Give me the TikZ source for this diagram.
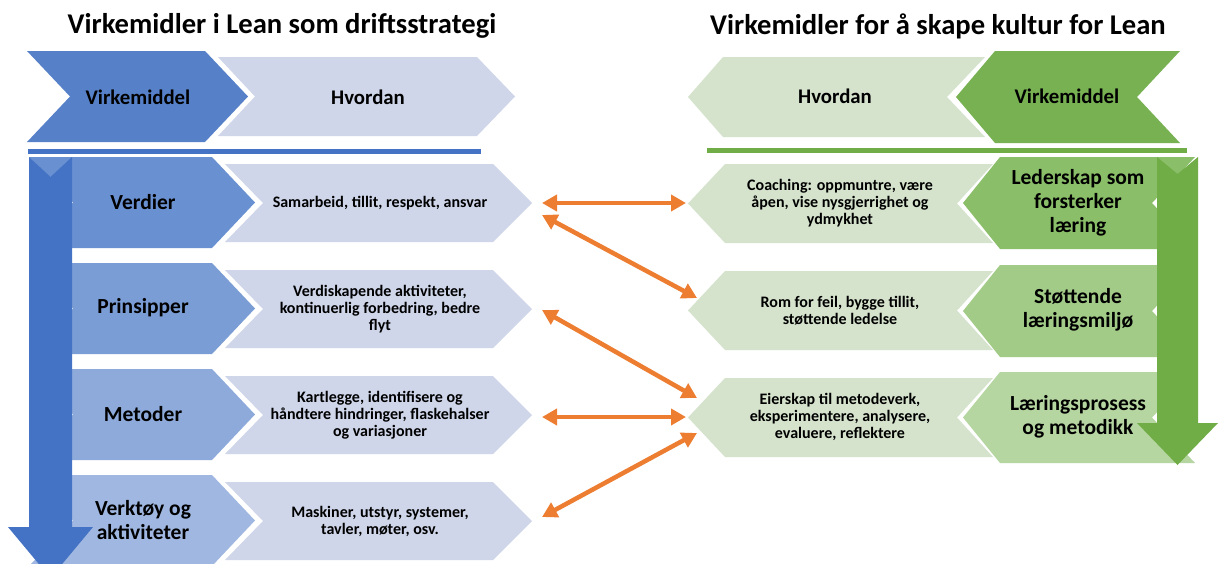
\documentclass[tikz,border=0pt]{standalone}
\usepackage{fontspec}
\setmainfont{Carlito}
\usetikzlibrary{arrows.meta}
\definecolor{blueArrow}{HTML}{4472C4}
\definecolor{blueHead}{HTML}{5681C9}
\definecolor{blueA}{HTML}{6990D0}
\definecolor{blueB}{HTML}{7B9DD5}
\definecolor{blueC}{HTML}{8DAADB}
\definecolor{blueD}{HTML}{A0B8E1}
\definecolor{blueLight}{HTML}{CFD6EA}
\definecolor{greenArrow}{HTML}{70AD47}
\definecolor{greenHead}{HTML}{77B152}
\definecolor{greenA}{HTML}{8ABE68}
\definecolor{greenB}{HTML}{A2CB87}
\definecolor{greenC}{HTML}{B5D6A0}
\definecolor{greenLight}{HTML}{D5E3CD}
\definecolor{orangeA}{HTML}{ED7D31}
% right-pointing chevron: style, x left corners, x right corners, y top, y bottom, notch depth, tip depth
\newcommand\RChev[7]{\fill[#1] (#2,#4) -- (#3,#4) -- ({#3+#7},{(#4+#5)/2}) -- (#3,#5) -- (#2,#5) -- ({#2+#6},{(#4+#5)/2}) -- cycle;}
% left-pointing chevron: style, x left corners, x right corners, y top, y bottom, tip depth, notch depth
\newcommand\LChev[7]{\fill[#1] (#2,#4) -- (#3,#4) -- ({#3-#7},{(#4+#5)/2}) -- (#3,#5) -- (#2,#5) -- ({#2-#6},{(#4+#5)/2}) -- cycle;}
\tikzset{
  titletext/.style={font=\bfseries\fontsize{28.6}{34}\selectfont},
  hdrtext/.style={font=\bfseries\fontsize{20.8}{24}\selectfont},
  rowtext/.style={font=\bfseries\fontsize{21.5}{24}\selectfont, align=center},
  howtext/.style={font=\bfseries\fontsize{16}{17}\selectfont, align=center},
  link/.style={draw=orangeA, line width=4.5pt, {Triangle[length=15pt,width=16pt]}-{Triangle[length=15pt,width=16pt]}}
}
\begin{document}
\begin{tikzpicture}[x=1pt,y=-1pt]
\useasboundingbox (0,0) rectangle (1218,563);
\fill[white] (0,0) rectangle (1218,563);
\clip (0,0) rectangle (1218,563);

% titles
\node[titletext] (t1) at (282,26) {Virkemidler i Lean som driftsstrategi};
\node[titletext] (t2) at (938,26) {Virkemidler for å skape kultur for Lean};

% left header
\RChev{blueHead}{27}{205}{51}{142}{43}{43}
\RChev{blueLight}{218}{477}{57}{136}{37}{38}
\fill[blueArrow] (28,148.5) rectangle (481,153.5);

% right header
\LChev{greenLight}{723}{985}{57}{137}{35}{38}
\LChev{greenHead}{995}{1180}{51}{143}{39}{43}
\fill[greenArrow] (707,147.5) rectangle (1187,152.5);

% left rows
\RChev{blueA}{29}{212}{157}{248}{44}{43}
\RChev{blueB}{29}{212}{263}{354}{44}{43}
\RChev{blueC}{29}{212}{369}{460}{44}{43}
\RChev{blueD}{29}{212}{475}{566}{44}{43}
\RChev{blueLight}{225}{493}{164}{242}{38}{39}
\RChev{blueLight}{225}{493}{270}{348}{38}{39}
\RChev{blueLight}{225}{493}{376}{454}{38}{39}
\RChev{blueLight}{225}{493}{482}{560}{38}{39}

% right rows
\LChev{greenLight}{725}{993}{164}{243}{37}{36}
\LChev{greenLight}{725}{993}{271}{350}{37}{36}
\LChev{greenLight}{725}{993}{378}{457}{37}{36}
\LChev{greenA}{1000}{1195}{157}{249}{37}{43}
\LChev{greenB}{1000}{1195}{265}{357}{37}{43}
\LChev{greenC}{1000}{1195}{372}{463}{37}{43}

% big arrows
\fill[blueArrow] (29,157) -- (50.5,177) -- (72,157) -- (72,527) -- (93,527) -- (50.5,578) -- (8,527) -- (29,527) -- cycle;
\fill[greenArrow] (1157,157) -- (1177.5,174) -- (1198,157) -- (1198,423) -- (1218,423) -- (1177.5,465) -- (1137,423) -- (1157,423) -- cycle;

% header texts
\node[hdrtext] (hv1) at (138,97) {Virkemiddel};
\node[hdrtext] (hh1) at (368,97) {Hvordan};
\node[hdrtext] (hh2) at (835,96) {Hvordan};
\node[hdrtext] (hv2) at (1067,96) {Virkemiddel};

% left row texts
\node[rowtext] (v1) at (143,202) {Verdier};
\node[rowtext] (v2) at (143,308) {Prinsipper};
\node[rowtext] (v3) at (143,414) {Metoder};
\node[rowtext] (v4) at (143,520) {Verktøy og\\aktiviteter};
\node[howtext] (l1) at (380,203) {Samarbeid, tillit, respekt, ansvar};
\node[howtext] (l2) at (380,309) {Verdiskapende aktiviteter,\\kontinuerlig forbedring, bedre\\flyt};
\node[howtext] (l3) at (380,415) {Kartlegge, identifisere og\\håndtere hindringer, flaskehalser\\og variasjoner};
\node[howtext] (l4) at (380,521) {Maskiner, utstyr, systemer,\\tavler, møter, osv.};

% right row texts
\node[howtext] (r1) at (840,203) {Coaching: oppmuntre, være\\åpen, vise nysgjerrighet og\\ydmykhet};
\node[howtext] (r2) at (840,311) {Rom for feil, bygge tillit,\\støttende ledelse};
\node[howtext] (r3) at (840,417) {Eierskap til metodeverk,\\eksperimentere, analysere,\\evaluere, reflektere};
\node[rowtext] (g1) at (1078,203) {Lederskap som\\forsterker\\læring};
\node[rowtext] (g2) at (1078,310) {Støttende\\læringsmiljø};
\node[rowtext] (g3) at (1078,417) {Læringsprosess\\og metodikk};

% connector end points
\coordinate (a1) at (542,203);
\coordinate (a2) at (542,215);
\coordinate (a3) at (542,310);
\coordinate (a4) at (542,417);
\coordinate (a5) at (542,517);
\coordinate (b1) at (686,203);
\coordinate (b2) at (697,298);
\coordinate (b3) at (697,398);
\coordinate (b4) at (686,417);
\coordinate (b5) at (697,433);

\draw[link] (a1) -- (b1);
\draw[link] (a2) -- (b2);
\draw[link] (a3) -- (b3);
\draw[link] (a4) -- (b4);
\draw[link] (a5) -- (b5);
\end{tikzpicture}
\end{document}
